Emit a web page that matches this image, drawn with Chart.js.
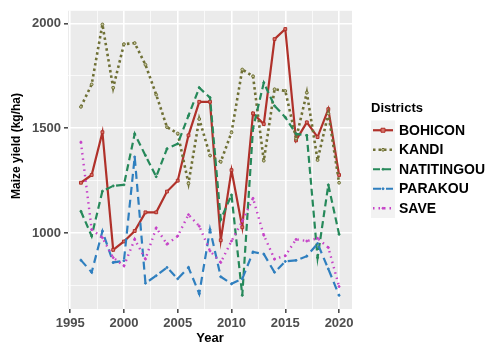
<!DOCTYPE html>
<html>
<head>
<meta charset="utf-8">
<script src="https://cdn.jsdelivr.net/npm/chart.js@4/dist/chart.umd.min.js"></script>
<style>
  html, body { margin: 0; padding: 0; background: #ffffff; }
  #wrap { width: 487px; height: 345px; position: relative; }
</style>
</head>
<body>
<div id="wrap"><canvas id="c" width="487" height="345"></canvas></div>
<script>
// Maize yield by district, 1996-2020 (kg/ha)
const years = [1996, 1997, 1998, 1999, 2000, 2001, 2002, 2003, 2004, 2005, 2006, 2007, 2008,
               2009, 2010, 2011, 2012, 2013, 2014, 2015, 2016, 2017, 2018, 2019, 2020];

const bohicon    = [1240, 1277, 1481, 920, 960, 1010, 1099, 1099, 1198, 1250, 1466, 1626, 1626,
                    966, 1300, 1028, 1571, 1520, 1925, 1973, 1442, 1528, 1458, 1591, 1277];
const kandi      = [1602, 1709, 1995, 1693, 1901, 1906, 1803, 1660, 1505, 1475, 1237, 1544, 1370,
                    1340, 1480, 1780, 1748, 1345, 1686, 1678, 1450, 1670, 1348, 1570, 1240];
const natitingou = [1104, 986, 1200, 1225, 1230, 1473, 1370, 1269, 1402, 1426, 1560, 1693, 1646,
                    1065, 1182, 703, 1500, 1717, 1607, 1552, 1473, 1466, 883, 1230, 994];
const parakou    = [871, 813, 1009, 860, 868, 1363, 761, 797, 836, 782, 836, 711, 1017,
                    792, 758, 782, 910, 900, 813, 865, 870, 890, 950, 829, 703];
const save       = [1434, 1017, 978, 883, 844, 970, 876, 1025, 947, 986, 1088, 1033, 915,
                    860, 962, 1057, 1166, 990, 876, 892, 970, 962, 975, 931, 745];

const districtNames = ['BOHICON', 'KANDI', 'NATITINGOU', 'PARAKOU', 'SAVE'];

// Axis ticks: labelled majors plus unlabelled minor grid positions
const yGridValues  = [750, 1000, 1250, 1500, 1750, 2000];
const yTickLabels  = [1000, 1500, 2000];
const xGridValues  = [1995, 1997.5, 2000, 2002.5, 2005, 2007.5, 2010, 2012.5, 2015, 2017.5, 2020];
const xTickLabels  = [1995, 2000, 2005, 2010, 2015, 2020];

const styles = [
  { color: '#b0312a', dash: [],       width: 2.2, point: 'rect',   radius: 2.0, fill: '#d9766c' },
  { color: '#6f7035', dash: [2.5, 3], width: 2.6, point: 'circle', radius: 1.4, fill: '#c9c9a0' },
  { color: '#26895a', dash: [7, 4],   width: 2.2, point: 'circle', radius: 1.0, fill: '#26895a' },
  { color: '#2f7fbf', dash: [8, 5],   width: 2.2, point: 'circle', radius: 1.0, fill: '#2f7fbf' },
  { color: '#c642c8', dash: [1.5, 4], width: 2.4, point: 'circle', radius: 1.0, fill: '#c642c8' }
];
const seriesValues = [bohicon, kandi, natitingou, parakou, save];

const datasets = districtNames.map((name, i) => ({
  label: name,
  data: years.map((yr, j) => ({ x: yr, y: seriesValues[i][j] })),
  borderColor: styles[i].color,
  borderWidth: styles[i].width,
  borderDash: styles[i].dash,
  pointStyle: styles[i].point,
  pointRadius: styles[i].radius,
  pointBorderWidth: 1,
  pointBorderColor: styles[i].color,
  pointBackgroundColor: styles[i].fill,
  tension: 0,
  fill: false,
  order: districtNames.length - 1 - i
}));

const panelBg = {
  id: 'panelBg',
  beforeDraw(chart) {
    const { ctx, chartArea: a } = chart;
    ctx.save();
    ctx.fillStyle = '#ebebeb';
    ctx.fillRect(a.left, a.top, a.right - a.left, a.bottom - a.top);
    ctx.restore();
  }
};

const sideDecor = {
  id: 'sideDecor',
  afterDraw(chart) {
    const ctx = chart.ctx;
    ctx.save();
    // y axis title
    ctx.translate(17, 146);
    ctx.rotate(-Math.PI / 2);
    ctx.fillStyle = '#000000';
    ctx.font = 'bold 12px "Liberation Sans", Arial, sans-serif';
    ctx.textAlign = 'center';
    ctx.textBaseline = 'middle';
    ctx.fillText('Maize yield (kg/ha)', 0, 0);
    ctx.restore();

    // legend
    ctx.save();
    ctx.fillStyle = '#000000';
    ctx.font = 'bold 13px "Liberation Sans", Arial, sans-serif';
    ctx.textAlign = 'left';
    ctx.textBaseline = 'middle';
    ctx.fillText('Districts', 371, 108);
    const rowH = 19.5, top0 = 120.5, kx0 = 371, kx1 = 395;
    ctx.fillStyle = '#f2f2f2';
    ctx.fillRect(kx0, top0, kx1 - kx0, rowH * districtNames.length);
    districtNames.forEach((name, i) => {
      const s = styles[i];
      const cy = top0 + rowH * (i + 0.5);
      ctx.save();
      ctx.strokeStyle = s.color;
      ctx.lineWidth = s.width;
      ctx.setLineDash(s.dash);
      ctx.beginPath();
      ctx.moveTo(kx0 + 2, cy);
      ctx.lineTo(kx1 - 2, cy);
      ctx.stroke();
      ctx.setLineDash([]);
      ctx.fillStyle = s.fill;
      ctx.lineWidth = 1;
      const cx = (kx0 + kx1) / 2;
      ctx.beginPath();
      if (s.point === 'rect') {
        ctx.rect(cx - s.radius, cy - s.radius, s.radius * 2, s.radius * 2);
      } else {
        ctx.arc(cx, cy, s.radius, 0, Math.PI * 2);
      }
      ctx.fill();
      ctx.stroke();
      ctx.restore();
      ctx.fillStyle = '#000000';
      ctx.font = 'bold 14px "Liberation Sans", Arial, sans-serif';
      ctx.fillText(name, 399, cy + 0.5);
    });
    ctx.restore();
  }
};

const tickFont = { family: '"Liberation Sans", Arial, sans-serif', size: 13, weight: 'bold' };

new Chart(document.getElementById('c'), {
  type: 'line',
  data: { datasets },
  options: {
    responsive: false,
    animation: false,
    devicePixelRatio: 1,
    layout: { padding: { left: 0, right: 135, top: 7, bottom: 0 } },
    plugins: { legend: { display: false }, tooltip: { enabled: false } },
    scales: {
      x: {
        type: 'linear',
        min: 1994.8,
        max: 2021.2,
        afterBuildTicks: s => { s.ticks = xGridValues.map(v => ({ value: v })); },
        afterFit: s => { s.height = 36; },
        ticks: {
          autoSkip: false,
          maxRotation: 0,
          padding: 3,
          color: '#4d4d4d',
          font: tickFont,
          callback: v => (xTickLabels.includes(v) ? String(v) : '')
        },
        grid: {
          color: '#ffffff',
          lineWidth: c => (xTickLabels.includes(c.tick && c.tick.value) ? 1.6 : 0.7),
          tickColor: c => (xTickLabels.includes(c.tick && c.tick.value) ? '#4d4d4d' : 'rgba(0,0,0,0)'),
          tickLength: 4
        },
        border: { display: false },
        title: {
          display: true,
          text: 'Year',
          color: '#000000',
          font: { family: '"Liberation Sans", Arial, sans-serif', size: 13, weight: 'bold', lineHeight: 1 },
          padding: { top: 0, bottom: 0 }
        }
      },
      y: {
        type: 'linear',
        min: 638,
        max: 2060,
        afterBuildTicks: s => { s.ticks = yGridValues.map(v => ({ value: v })); },
        afterFit: s => { s.width = 68; },
        ticks: {
          autoSkip: false,
          padding: 3,
          color: '#4d4d4d',
          font: tickFont,
          callback: v => (yTickLabels.includes(v) ? String(v) : '')
        },
        grid: {
          color: '#ffffff',
          lineWidth: c => (yTickLabels.includes(c.tick && c.tick.value) ? 1.6 : 0.7),
          tickColor: c => (yTickLabels.includes(c.tick && c.tick.value) ? '#4d4d4d' : 'rgba(0,0,0,0)'),
          tickLength: 4
        },
        border: { display: false }
      }
    }
  },
  plugins: [panelBg, sideDecor]
});
</script>
</body>
</html>
